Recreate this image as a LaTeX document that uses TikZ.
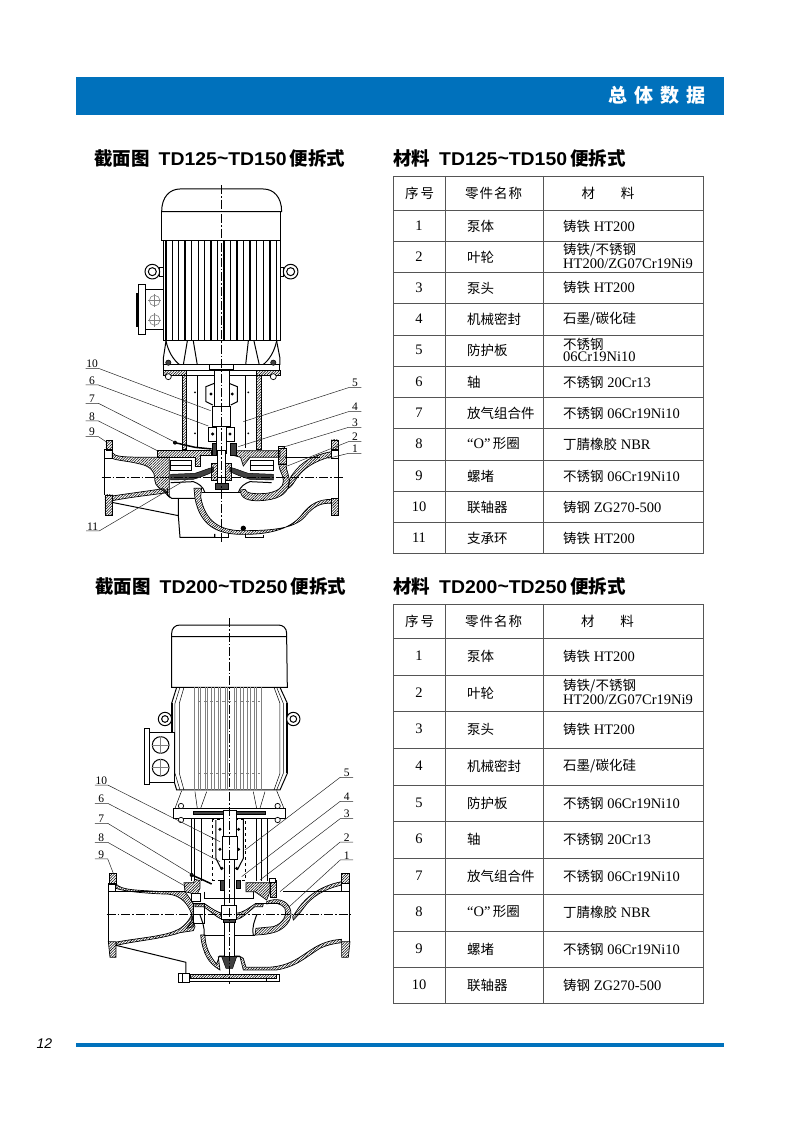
\documentclass[tikz,border=0pt]{standalone}
\usepackage{fontspec}
\setmainfont{Liberation Serif}
\newfontfamily\cjkfont{Noto Sans CJK SC}
\newfontfamily\headfont[FakeStretch=1.05]{Liberation Sans}
\newfontfamily\pagefont{Liberation Sans}
\usepackage{xcolor}
\usetikzlibrary{patterns.meta}
\definecolor{bandblue}{HTML}{0071BC}
\definecolor{gridgray}{HTML}{555555}
\newcommand{\cn}[1]{{\fontsize{13.5}{14}\selectfont\cjkfont #1}}
\newcommand{\cnb}[1]{{\cjkfont\bfseries #1}}
\tikzset{
  outline/.style={black, line width=1pt},
  thinline/.style={black, line width=0.5pt},
  finline/.style={black, line width=1.5pt},
  grayfin/.style={gray, line width=0.6pt},
  hatched/.style={black, line width=0.7pt, pattern={Lines[angle=45, distance=1.9pt, line width=0.55pt]}},
  solidpart/.style={black, line width=0.5pt, fill=black!75},
  whitepart/.style={black, line width=0.7pt, fill=white},
  centerline/.style={black, line width=0.45pt, dash pattern=on 9pt off 2pt on 1.5pt off 2pt},
  leader/.style={black!85, line width=0.5pt},
  partlabel/.style={font=\fontsize{11.5}{12}\selectfont, minimum width=12.5pt, inner sep=0.5pt, anchor=south},
  grid/.style={gridgray, line width=0.8pt},
  cellno/.style={font=\fontsize{14.5}{15}\selectfont, inner sep=0pt, anchor=center},
  cellname/.style={font=\fontsize{14.5}{15}\selectfont, inner sep=0pt, anchor=west},
  cellmat/.style={font=\fontsize{14.5}{15}\selectfont, inner sep=0pt, anchor=west},
  cellhead/.style={inner sep=0pt, anchor=center},
  heading/.style={font=\fontsize{18.5}{19}\selectfont\headfont\bfseries, inner sep=0pt, anchor=west},
}
\begin{document}
\begin{tikzpicture}[x=1pt, y=-1pt]
  \useasboundingbox (0,0) rectangle (800,1131);
  \fill[bandblue] (76,77) rectangle (724,115);
  \fill[bandblue] (76,1042.5) rectangle (724,1047);
  \node[text=white, font=\fontsize{19}{20}\selectfont, inner sep=0pt, anchor=east] (bandtitle) at (706,95) {\cnb{总\hspace{7pt}体\hspace{7pt}数\hspace{7pt}据}};
  \node[font=\fontsize{14}{15}\selectfont\pagefont\itshape, inner sep=0pt] (pageno) at (44.5,1044) {12};

  \node[heading] (headA) at (94,158) {\cnb{截面图}\hspace{9pt}TD125\raisebox{1pt}{\textasciitilde}TD150\hspace{3pt}\cnb{便拆式}};
  \node[heading] (headB) at (393,158) {\cnb{材料}\hspace{9pt}TD125\raisebox{1pt}{\textasciitilde}TD150\hspace{3pt}\cnb{便拆式}};
  \node[heading] (headC) at (95,586) {\cnb{截面图}\hspace{9pt}TD200\raisebox{1pt}{\textasciitilde}TD250\hspace{3pt}\cnb{便拆式}};
  \node[heading] (headD) at (393,586) {\cnb{材料}\hspace{9pt}TD200\raisebox{1pt}{\textasciitilde}TD250\hspace{3pt}\cnb{便拆式}};

  \draw[grid] (393,176) rectangle (703,553);
  \draw[grid] (445,176) -- (445,553);
  \draw[grid] (543,176) -- (543,553);
  \draw[grid] (393,210) -- (703,210);
  \draw[grid] (393,241) -- (703,241);
  \draw[grid] (393,272) -- (703,272);
  \draw[grid] (393,303) -- (703,303);
  \draw[grid] (393,335) -- (703,335);
  \draw[grid] (393,366) -- (703,366);
  \draw[grid] (393,397) -- (703,397);
  \draw[grid] (393,428) -- (703,428);
  \draw[grid] (393,460) -- (703,460);
  \draw[grid] (393,491) -- (703,491);
  \draw[grid] (393,522) -- (703,522);

  \node[cellhead] (noAh) at (419.5,193) {\cn{序\hspace{2pt}号}};
  \node[cellhead] (partAh) at (493.5,193) {\cn{零\hspace{1pt}件\hspace{1pt}名\hspace{1pt}称}};
  \node[cellhead] (matAh) at (608,193) {\cn{材\hspace{26pt}料}};
  \node[cellno] (noA1) at (419,226) {1};
  \node[cellno] (noA2) at (419,257) {2};
  \node[cellno] (noA3) at (419,288) {3};
  \node[cellno] (noA4) at (419,319) {4};
  \node[cellno] (noA5) at (419,350) {5};
  \node[cellno] (noA6) at (419,382) {6};
  \node[cellno] (noA7) at (419,413) {7};
  \node[cellno] (noA8) at (419,444) {8};
  \node[cellno] (noA9) at (419,476) {9};
  \node[cellno] (noA10) at (419,507) {10};
  \node[cellno] (noA11) at (419,538) {11};
  \node[cellname] (partA1) at (467,226) {\cn{泵体}};
  \node[cellname] (partA2) at (467,257) {\cn{叶轮}};
  \node[cellname] (partA3) at (467,288) {\cn{泵头}};
  \node[cellname] (partA4) at (467,319) {\cn{机械密封}};
  \node[cellname] (partA5) at (467,350) {\cn{防护板}};
  \node[cellname] (partA6) at (467,382) {\cn{轴}};
  \node[cellname] (partA7) at (467,413) {\cn{放气组合件}};
  \node[cellname] (partA8) at (467,444) {“O”\,\cn{形圈}};
  \node[cellname] (partA9) at (467,476) {\cn{螺堵}};
  \node[cellname] (partA10) at (467,507) {\cn{联轴器}};
  \node[cellname] (partA11) at (467,538) {\cn{支承环}};
  \node[cellmat] (matA1) at (563,226) {\cn{铸铁} HT200};
  \node[cellmat] (matA2a) at (563,250.5) {\cn{铸铁/不锈钢}};
  \node[cellmat] (matA2b) at (563,264) {HT200/ZG07Cr19Ni9};
  \node[cellmat] (matA3) at (563,287) {\cn{铸铁} HT200};
  \node[cellmat] (matA4) at (563,319) {\cn{石墨/碳化硅}};
  \node[cellmat] (matA5a) at (563,344) {\cn{不锈钢}};
  \node[cellmat] (matA5b) at (563,357) {06Cr19Ni10};
  \node[cellmat] (matA6) at (563,382) {\cn{不锈钢} 20Cr13};
  \node[cellmat] (matA7) at (563,413) {\cn{不锈钢} 06Cr19Ni10};
  \node[cellmat] (matA8) at (563,444) {\cn{丁腈橡胶} NBR};
  \node[cellmat] (matA9) at (563,476) {\cn{不锈钢} 06Cr19Ni10};
  \node[cellmat] (matA10) at (563,507) {\cn{铸钢} ZG270-500};
  \node[cellmat] (matA11) at (563,538) {\cn{铸铁} HT200};

  \draw[grid] (393,604) rectangle (703,1003);
  \draw[grid] (445,604) -- (445,1003);
  \draw[grid] (543,604) -- (543,1003);
  \draw[grid] (393,638) -- (703,638);
  \draw[grid] (393,675) -- (703,675);
  \draw[grid] (393,711) -- (703,711);
  \draw[grid] (393,748) -- (703,748);
  \draw[grid] (393,785) -- (703,785);
  \draw[grid] (393,821) -- (703,821);
  \draw[grid] (393,858) -- (703,858);
  \draw[grid] (393,894) -- (703,894);
  \draw[grid] (393,931) -- (703,931);
  \draw[grid] (393,967) -- (703,967);

  \node[cellhead] (noBh) at (419.5,621) {\cn{序\hspace{2pt}号}};
  \node[cellhead] (partBh) at (493.5,621) {\cn{零\hspace{1pt}件\hspace{1pt}名\hspace{1pt}称}};
  \node[cellhead] (matBh) at (607.5,621) {\cn{材\hspace{26pt}料}};
  \node[cellno] (noB1) at (419,656) {1};
  \node[cellno] (noB2) at (419,693) {2};
  \node[cellno] (noB3) at (419,729) {3};
  \node[cellno] (noB4) at (419,766) {4};
  \node[cellno] (noB5) at (419,803) {5};
  \node[cellno] (noB6) at (419,839) {6};
  \node[cellno] (noB7) at (419,876) {7};
  \node[cellno] (noB8) at (419,912) {8};
  \node[cellno] (noB9) at (419,949) {9};
  \node[cellno] (noB10) at (419,985) {10};
  \node[cellname] (partB1) at (467,656) {\cn{泵体}};
  \node[cellname] (partB2) at (467,693) {\cn{叶轮}};
  \node[cellname] (partB3) at (467,729) {\cn{泵头}};
  \node[cellname] (partB4) at (467,766) {\cn{机械密封}};
  \node[cellname] (partB5) at (467,803) {\cn{防护板}};
  \node[cellname] (partB6) at (467,839) {\cn{轴}};
  \node[cellname] (partB7) at (467,876) {\cn{放气组合件}};
  \node[cellname] (partB8) at (467,912) {“O”\,\cn{形圈}};
  \node[cellname] (partB9) at (467,949) {\cn{螺堵}};
  \node[cellname] (partB10) at (467,985) {\cn{联轴器}};
  \node[cellmat] (matB1) at (563,656) {\cn{铸铁} HT200};
  \node[cellmat] (matB2a) at (563,686) {\cn{铸铁/不锈钢}};
  \node[cellmat] (matB2b) at (563,699.5) {HT200/ZG07Cr19Ni9};
  \node[cellmat] (matB3) at (563,729) {\cn{铸铁} HT200};
  \node[cellmat] (matB4) at (563,766) {\cn{石墨/碳化硅}};
  \node[cellmat] (matB5) at (563,803) {\cn{不锈钢} 06Cr19Ni10};
  \node[cellmat] (matB6) at (563,839) {\cn{不锈钢} 20Cr13};
  \node[cellmat] (matB7) at (563,876) {\cn{不锈钢} 06Cr19Ni10};
  \node[cellmat] (matB8) at (563,912) {\cn{丁腈橡胶} NBR};
  \node[cellmat] (matB9) at (563,949) {\cn{不锈钢} 06Cr19Ni10};
  \node[cellmat] (matB10) at (563,985) {\cn{铸钢} ZG270-500};

  \begin{scope}[shift={(80,180)}, x=0.3333pt, y=-0.3333pt]
    \draw[outline] (245,95) .. controls (245,50) and (270,27) .. (300,27) -- (550,27) .. controls (580,27) and (605,50) .. (605,95) -- cycle;
    \draw[outline] (246,95) -- (246,182) -- (603,182) -- (603,95);
    \draw[outline] (250,182) rectangle (601,483);
    \draw[finline] (258,182) -- (258,483) (277,182) -- (277,483) (296,182) -- (296,483) (315,182) -- (315,483) (335,182) -- (335,483) (355,182) -- (355,483) (374,182) -- (374,483) (393,182) -- (393,483) (412,182) -- (412,483) (432,182) -- (432,483) (451,182) -- (451,483) (471,182) -- (471,483) (490,182) -- (490,483) (510,182) -- (510,483) (530,182) -- (530,483) (550,182) -- (550,483) (570,182) -- (570,483) (590,182) -- (590,483);
    \draw[outline] (239,262) rectangle (250,290);
    \draw[outline, fill=white] (217,275) circle [radius=22];
    \draw[outline] (217,275) circle [radius=12];
    \draw[outline] (602,262) rectangle (610,290);
    \draw[outline, fill=white] (632,275) circle [radius=22];
    \draw[outline] (632,275) circle [radius=12];
    \draw[outline, fill=white] (175,315) rectangle (197,465);
    \draw[outline, fill=white] (197,330) rectangle (250,450);
    \draw[outline, fill=black] (170,340) rectangle (175,440);
    \draw[gray, line width=0.6pt] (224,362) circle [radius=16];
    \draw[gray, line width=0.6pt] (224,420) circle [radius=16];
    \draw[gray, line width=0.4pt] (204,362) -- (244,362) (224,342) -- (224,382);
    \draw[gray, line width=0.4pt] (204,420) -- (244,420) (224,400) -- (224,440);
  \end{scope}

  \begin{scope}[shift={(80,340)}, x=0.3333pt, y=-0.3333pt]
    \draw[outline] (258,3) -- (250,55) -- (250,75);
    \draw[outline] (258,3) .. controls (265,35) and (280,60) .. (300,75);
    \draw[outline] (590,3) -- (600,55) -- (600,75);
    \draw[outline] (590,3) .. controls (583,35) and (568,60) .. (548,75);
    \draw[outline] (322,3) -- (310,75) (340,3) -- (352,75) (505,3) -- (497,75) (522,3) -- (538,75);
    \draw[outline, fill=white] (250,75) rectangle (600,92);
    \draw[outline, fill=white] (390,75) rectangle (460,88);
    \draw[hatched] (250,92) rectangle (600,105);
    \draw[whitepart] (320,92) rectangle (530,105);
    \draw[solidpart] (265,68) circle [radius=8];
    \draw[solidpart] (580,68) circle [radius=8];
    \draw[whitepart] (265,110) circle [radius=9];
    \draw[whitepart] (580,110) circle [radius=9];
    \draw[hatched] (307,105) rectangle (320,327);
    \draw[hatched] (530,105) rectangle (543,327);
    \draw[thinline] (352,325) -- (352,105) -- (497,105) -- (497,325);
    \fill (345,157) circle [radius=3] (345,280) circle [radius=3] (505,157) circle [radius=3] (505,280) circle [radius=3];
    \draw[outline] (403,130) -- (378,140) -- (378,185) -- (398,195) (447,130) -- (472,140) -- (472,185) -- (452,195);
    \draw[outline] (385,262) -- (385,305) -- (410,305) (465,262) -- (465,305) -- (440,305) (385,262) -- (465,262);
    \draw[whitepart] (403,92) rectangle (447,200);
    \draw[whitepart] (398,200) rectangle (452,260);
    \draw[whitepart] (410,260) rectangle (440,340);
    \fill (393,162) circle [radius=5] (457,162) circle [radius=5] (398,282) circle [radius=5] (450,282) circle [radius=5];
    \draw[hatched] (232,332) -- (395,332) -- (395,345) -- (362,345) -- (362,378) -- (345,378) -- (345,352) -- (232,352) -- cycle;
    \draw[hatched] (455,332) -- (600,332) -- (600,352) -- (510,352) -- (490,378) -- (482,352) -- (455,345) -- cycle;
    \draw[hatched] (595,325) rectangle (618,372);
    \draw[whitepart] (596,320) rectangle (614,326);
    \draw[hatched] (97,338) .. controls (105,350) and (120,352) .. (232,352) -- (268,352) -- (268,472) -- (250,452) .. controls (225,440) and (224,425) .. (224,412) .. controls (224,395) and (210,378) .. (180,372) .. controls (140,362) and (110,362) .. (97,355) -- cycle;
    \draw[hatched] (97,468) .. controls (150,460) and (190,455) .. (250,446) -- (262,458) .. controls (190,468) and (150,472) .. (97,482) -- cycle;
    \draw[hatched] (78,302) rectangle (97,330);
    \draw[outline] (75,330) rectangle (97,355);
    \draw[hatched] (75,465) rectangle (97,525);
    \draw[outline] (75,355) -- (75,465);
    \draw[hatched] (755,300) rectangle (775,330);
    \draw[outline] (755,330) rectangle (775,355);
    \draw[hatched] (755,475) rectangle (775,525);
    \draw[outline] (775,355) -- (775,475);
    \draw[hatched] (755,335) .. controls (700,345) and (665,365) .. (640,400) .. controls (630,412) and (628,420) .. (627,425) -- (625,445) .. controls (635,440) and (640,430) .. (650,415) .. controls (670,385) and (705,362) .. (755,350) -- cycle;
    \draw[hatched] (597,372) -- (618,372) .. controls (618,395) and (632,410) .. (627,435) .. controls (620,465) and (590,480) .. (540,482) .. controls (505,484) and (480,475) .. (482,450) -- (495,448) .. controls (498,460) and (520,463) .. (560,460) .. controls (595,455) and (610,440) .. (610,425) .. controls (612,405) and (597,395) .. (597,372) -- cycle;
    \draw[hatched] (342,445) -- (365,445) -- (362,470) .. controls (375,545) and (420,570) .. (480,572) .. controls (560,572) and (640,570) .. (675,530) .. controls (700,500) and (720,488) .. (755,490) -- (755,478) .. controls (720,478) and (690,490) .. (665,525) .. controls (630,570) and (560,585) .. (480,583) .. controls (410,582) and (360,555) .. (345,475) -- cycle;
    \draw[outline] (615,352) -- (720,352);
    \draw[outline] (262,445) -- (262,465) -- (275,475) -- (345,475);
    \draw[thinline] (365,458) -- (482,458);
    \draw[outline] (95,487) -- (295,527) -- (295,475);
    \draw[outline] (295,527) -- (300,592) -- (405,592) -- (405,582);
    \draw[outline] (405,582) -- (405,592) -- (445,592) -- (445,580);
    \draw[outline] (498,583) -- (498,592) -- (552,592) -- (552,585);
    \fill (490,565) circle [radius=8];
    \draw[thinline] (272,362) rectangle (335,390);
    \draw[thinline] (272,375) -- (335,375);
    \draw[thinline] (510,362) rectangle (580,390);
    \draw[thinline] (510,375) -- (580,375);
    \draw[solidpart] (272,403) -- (345,400) .. controls (370,392) and (385,385) .. (400,382) -- (400,395) .. controls (380,405) and (360,412) .. (340,418) -- (272,420) -- cycle;
    \draw[solidpart] (580,403) -- (505,400) .. controls (480,392) and (465,385) .. (450,382) -- (450,395) .. controls (470,405) and (490,412) .. (510,418) -- (580,420) -- cycle;
    \draw[outline] (272,428) -- (340,425) .. controls (355,430) and (370,440) .. (375,458);
    \draw[outline] (575,428) -- (510,425) .. controls (495,430) and (480,440) .. (475,458);
    \draw[hatched] (395,370) rectangle (455,422);
    \draw[whitepart] (412,330) rectangle (437,430);
    \draw[solidpart] (405,430) rectangle (445,447);
    \draw[solidpart] (398,310) rectangle (410,345);
    \draw[solidpart] (452,310) rectangle (470,345);
    \draw[black, line width=1.5pt] (285,308) -- (345,322) -- (395,327);
    \fill (285,308) circle [radius=6];

    \node[partlabel] (labelA10) at (36,85) {10};
    \node[partlabel] (labelA6) at (36,135) {6};
    \node[partlabel] (labelA7) at (36,190) {7};
    \node[partlabel] (labelA8) at (36,243) {8};
    \node[partlabel] (labelA9) at (36,290) {9};
    \node[partlabel] (labelA5) at (825,143) {5};
    \node[partlabel] (labelA4) at (825,215) {4};
    \node[partlabel] (labelA3) at (825,262) {3};
    \node[partlabel] (labelA2) at (825,305) {2};
    \node[partlabel] (labelA1) at (825,340) {1};
    \node[partlabel] (labelA11) at (38,573) {11};
    \coordinate (endA10) at (392,212);
    \coordinate (endA6) at (385,258);
    \coordinate (endA7) at (288,308);
    \coordinate (endA8) at (232,332);
    \coordinate (endA9) at (78,305);
    \coordinate (endA5) at (490,245);
    \coordinate (endA4) at (475,320);
    \coordinate (endA3) at (608,322);
    \coordinate (endA2) at (622,378);
    \coordinate (endA1) at (745,355);
    \coordinate (endA11) at (330,412);
    \draw[leader] (labelA10.south west) -- (labelA10.south east) -- (endA10);
    \draw[leader] (labelA6.south west) -- (labelA6.south east) -- (endA6);
    \draw[leader] (labelA7.south west) -- (labelA7.south east) -- (endA7);
    \draw[leader] (labelA8.south west) -- (labelA8.south east) -- (endA8);
    \draw[leader] (labelA9.south west) -- (labelA9.south east) -- (endA9);
    \draw[leader] (labelA5.south east) -- (labelA5.south west) -- (endA5);
    \draw[leader] (labelA4.south east) -- (labelA4.south west) -- (endA4);
    \draw[leader] (labelA3.south east) -- (labelA3.south west) -- (endA3);
    \draw[leader] (labelA2.south east) -- (labelA2.south west) -- (endA2);
    \draw[leader] (labelA1.south east) -- (labelA1.south west) -- (endA1);
    \draw[leader] (labelA11.south west) -- (labelA11.south east) -- (endA11);
    \draw[centerline] (65,412) -- (790,412);
    \draw[centerline] (424,-465) -- (424,605);
  \end{scope}

  \begin{scope}[shift={(80,610)}, x=0.3333pt, y=-0.3333pt]
    \draw[outline] (275,80) -- (275,70) .. controls (275,55) and (285,45) .. (300,45) -- (595,45) .. controls (610,45) and (620,55) .. (620,70) -- (620,80) -- cycle;
    \draw[outline] (275,80) -- (275,232) -- (622,232) -- (620,80);
    \draw[outline] (290,232) -- (275,280) -- (275,490) -- (290,540) -- (600,540) -- (622,490) -- (622,280) -- (600,232);
    \draw[thinline] (300,232) -- (285,280) -- (285,490) -- (300,540) (312,232) -- (298,280) -- (298,490) -- (312,540);
    \draw[thinline] (590,232) -- (610,280) -- (610,490) -- (590,540) (582,232) -- (600,280) -- (600,490) -- (582,540);
    \draw[black, line width=1.4pt] (277,280) -- (277,365) (620,280) -- (620,490);
    \draw[grayfin] (342,232) -- (342,540) (355,232) -- (355,540) (362,232) -- (362,540) (375,232) -- (375,540) (382,232) -- (382,540) (395,232) -- (395,540) (402,232) -- (402,540) (415,232) -- (415,540) (422,232) -- (422,540) (435,232) -- (435,540) (442,232) -- (442,540) (462,232) -- (462,540) (470,232) -- (470,540) (482,232) -- (482,540) (490,232) -- (490,540) (502,232) -- (502,540) (510,232) -- (510,540) (522,232) -- (522,540) (530,232) -- (530,540) (545,232) -- (545,540);
    \draw[gray, line width=0.6pt, dashed] (355,275) -- (540,275) (355,490) -- (540,490);
    \draw[outline, fill=white] (255,327) circle [radius=20];
    \draw[outline] (255,327) circle [radius=10];
    \draw[outline, fill=white] (640,327) circle [radius=20];
    \draw[outline] (640,327) circle [radius=10];
    \draw[outline, fill=white] (195,355) rectangle (210,525);
    \draw[outline, fill=white] (210,368) rectangle (285,518);
    \draw[outline] (242,405) circle [radius=25];
    \draw[outline] (242,473) circle [radius=25];
    \draw[gray, line width=0.4pt] (215,405) -- (270,405) (242,378) -- (242,432);
    \draw[gray, line width=0.4pt] (215,473) -- (270,473) (242,446) -- (242,500);
  \end{scope}

  \begin{scope}[shift={(80,760)}, x=0.3333pt, y=-0.3333pt]
    \draw[thinline] (305,92) -- (285,145) (590,92) -- (612,145);
    \draw[thinline] (345,95) -- (352,145) (380,95) -- (362,145) (520,95) -- (530,145) (555,95) -- (540,145);
    \draw[outline, fill=white] (282,145) rectangle (617,175);
    \draw[solidpart] (340,155) rectangle (555,162);
    \draw[whitepart] (303,138) circle [radius=8];
    \draw[whitepart] (593,138) circle [radius=8];
    \draw[whitepart] (303,180) circle [radius=8];
    \draw[whitepart] (593,180) circle [radius=8];
    \draw[outline] (335,175) -- (335,362) (345,175) -- (345,362) (365,175) -- (365,362);
    \draw[outline] (530,175) -- (530,362) (545,175) -- (545,362) (562,175) -- (562,362);
    \draw[thinline, dashed] (398,178) -- (398,360) -- (497,360) -- (497,178) -- cycle;
    \draw[outline] (408,180) -- (408,295) -- (425,330) (490,180) -- (490,295) -- (472,330);
    \fill (420,208) circle [radius=5] (476,208) circle [radius=5] (420,268) circle [radius=5] (476,268) circle [radius=5] (426,325) circle [radius=5] (470,325) circle [radius=5];
    \draw[whitepart] (430,150) rectangle (470,230);
    \draw[whitepart] (427,230) rectangle (472,297);
    \draw[whitepart] (433,297) rectangle (463,440);
    \draw[hatched] (312,368) -- (340,368) -- (345,358) -- (360,362) -- (360,385) -- (345,415) -- (335,400) -- (315,395) -- cycle;
    \draw[whitepart] (335,400) rectangle (360,425);
    \draw[hatched] (498,368) -- (570,368) -- (570,395) -- (560,420) -- (525,395) -- (498,395) -- cycle;
    \draw[hatched] (570,360) rectangle (590,412);
    \draw[whitepart] (568,356) rectangle (586,366);
    \draw[outline] (375,395) -- (375,415) -- (520,415) -- (520,395);
    \draw[hatched] (108,372) .. controls (125,390) and (160,390) .. (250,395) -- (315,395) -- (340,430) -- (340,500) -- (320,505) .. controls (330,490) and (340,480) .. (335,462) .. controls (320,420) and (290,400) .. (250,402) .. controls (200,400) and (135,395) .. (108,385) -- cycle;
    \draw[hatched] (108,550) -- (110,546) .. controls (170,535) and (240,530) .. (280,515) .. controls (300,508) and (320,495) .. (335,465) -- (345,500) -- (340,512) -- (300,518) .. controls (240,538) and (170,542) .. (110,556) -- cycle;
    \draw[hatched] (88,340) rectangle (108,372);
    \draw[outline] (85,372) rectangle (108,395);
    \draw[outline] (85,395) -- (85,545);
    \draw[hatched] (85,545) -- (108,545) -- (108,592) -- (90,592) -- cycle;
    \draw[hatched] (785,340) rectangle (808,370);
    \draw[outline] (785,370) rectangle (810,395);
    \draw[outline] (810,395) -- (810,545);
    \draw[hatched] (785,545) -- (810,545) -- (805,592) -- (785,592) -- cycle;
    \draw[outline] (108,395) -- (315,395);
    \draw[outline] (610,395) -- (785,395);
    \draw[hatched] (785,365) .. controls (720,378) and (680,410) .. (655,445) .. controls (645,460) and (642,465) .. (638,470) -- (640,480) .. controls (650,470) and (660,460) .. (670,445) .. controls (695,410) and (730,388) .. (785,375) -- cycle;
    \draw[hatched] (560,425) .. controls (590,412) and (620,420) .. (630,445) .. controls (640,470) and (625,500) .. (590,515) .. controls (570,522) and (545,525) .. (525,525) -- (528,505) -- (580,500) .. controls (610,490) and (622,465) .. (615,445) .. controls (605,430) and (580,425) .. (560,432) -- cycle;
    \draw[hatched] (362,525) .. controls (368,580) and (385,610) .. (420,630) -- (415,590) -- (480,590) -- (490,630) -- (590,630) .. controls (650,620) and (680,590) .. (720,565) .. controls (740,555) and (765,550) .. (785,548) -- (785,538) .. controls (750,540) and (725,550) .. (700,565) .. controls (660,590) and (630,620) .. (560,622) -- (498,622) -- (490,595) -- (478,588) -- (418,588) -- (410,612) .. controls (390,590) and (375,560) .. (375,525) -- cycle;
    \draw[hatched] (330,643) -- (590,643) -- (590,655) -- (330,655) -- cycle;
    \draw[outline] (295,642) rectangle (330,667);
    \draw[outline] (308,642) -- (308,667);
    \draw[outline] (330,655) -- (330,665) -- (560,665) -- (560,655) (590,643) -- (600,643) -- (600,665) -- (560,665);
    \draw[outline] (108,556) -- (318,607) -- (318,642);
    \draw[solidpart] (425,590) -- (470,590) -- (458,625) -- (438,625) -- cycle;
    \draw[outline] (340,432) rectangle (375,490);
    \draw[outline] (525,432) -- (600,432);
    \draw[hatched] (345,432) -- (375,432) .. controls (395,445) and (415,460) .. (430,460) -- (468,460) .. controls (485,460) and (505,445) .. (525,432) -- (550,432) -- (548,440) -- (525,440) .. controls (505,455) and (485,478) .. (468,478) -- (430,478) .. controls (415,478) and (395,455) .. (370,440) -- (345,440) -- cycle;
    \draw[outline] (360,465) .. controls (365,480) and (375,500) .. (372,525) (520,525) .. controls (515,500) and (525,480) .. (530,465);
    \draw[thinline] (372,525) -- (525,525);
    \draw[whitepart] (425,435) rectangle (470,478);
    \draw[solidpart] (430,478) rectangle (467,488);
    \draw[whitepart] (433,488) rectangle (463,590);
    \draw[black, line width=1.5pt] (335,345) -- (365,358) -- (395,372);
    \fill (335,345) circle [radius=6];
    \draw[solidpart] (420,360) rectangle (432,390);
    \draw[solidpart] (468,362) rectangle (482,385);

    \node[partlabel] (labelB10) at (64,75) {10};
    \node[partlabel] (labelB6) at (64,130) {6};
    \node[partlabel] (labelB7) at (64,190) {7};
    \node[partlabel] (labelB8) at (64,247) {8};
    \node[partlabel] (labelB9) at (64,297) {9};
    \node[partlabel] (labelB5) at (800,52) {5};
    \node[partlabel] (labelB4) at (800,124) {4};
    \node[partlabel] (labelB3) at (800,176) {3};
    \node[partlabel] (labelB2) at (800,246) {2};
    \node[partlabel] (labelB1) at (800,300) {1};
    \coordinate (endB10) at (420,245);
    \coordinate (endB6) at (420,305);
    \coordinate (endB7) at (338,345);
    \coordinate (endB8) at (315,378);
    \coordinate (endB9) at (100,340);
    \coordinate (endB5) at (495,270);
    \coordinate (endB4) at (485,350);
    \coordinate (endB3) at (540,360);
    \coordinate (endB2) at (600,395);
    \coordinate (endB1) at (628,440);
    \draw[leader] (labelB10.south west) -- (labelB10.south east) -- (endB10);
    \draw[leader] (labelB6.south west) -- (labelB6.south east) -- (endB6);
    \draw[leader] (labelB7.south west) -- (labelB7.south east) -- (endB7);
    \draw[leader] (labelB8.south west) -- (labelB8.south east) -- (endB8);
    \draw[leader] (labelB9.south west) -- (labelB9.south east) -- (endB9);
    \draw[leader] (labelB5.south east) -- (labelB5.south west) -- (endB5);
    \draw[leader] (labelB4.south east) -- (labelB4.south west) -- (endB4);
    \draw[leader] (labelB3.south east) -- (labelB3.south west) -- (endB3);
    \draw[leader] (labelB2.south east) -- (labelB2.south west) -- (endB2);
    \draw[leader] (labelB1.south east) -- (labelB1.south west) -- (endB1);
    \draw[centerline] (80,463) -- (815,463);
    \draw[centerline] (448,-425) -- (448,672);
  \end{scope}
\end{tikzpicture}
\end{document}
